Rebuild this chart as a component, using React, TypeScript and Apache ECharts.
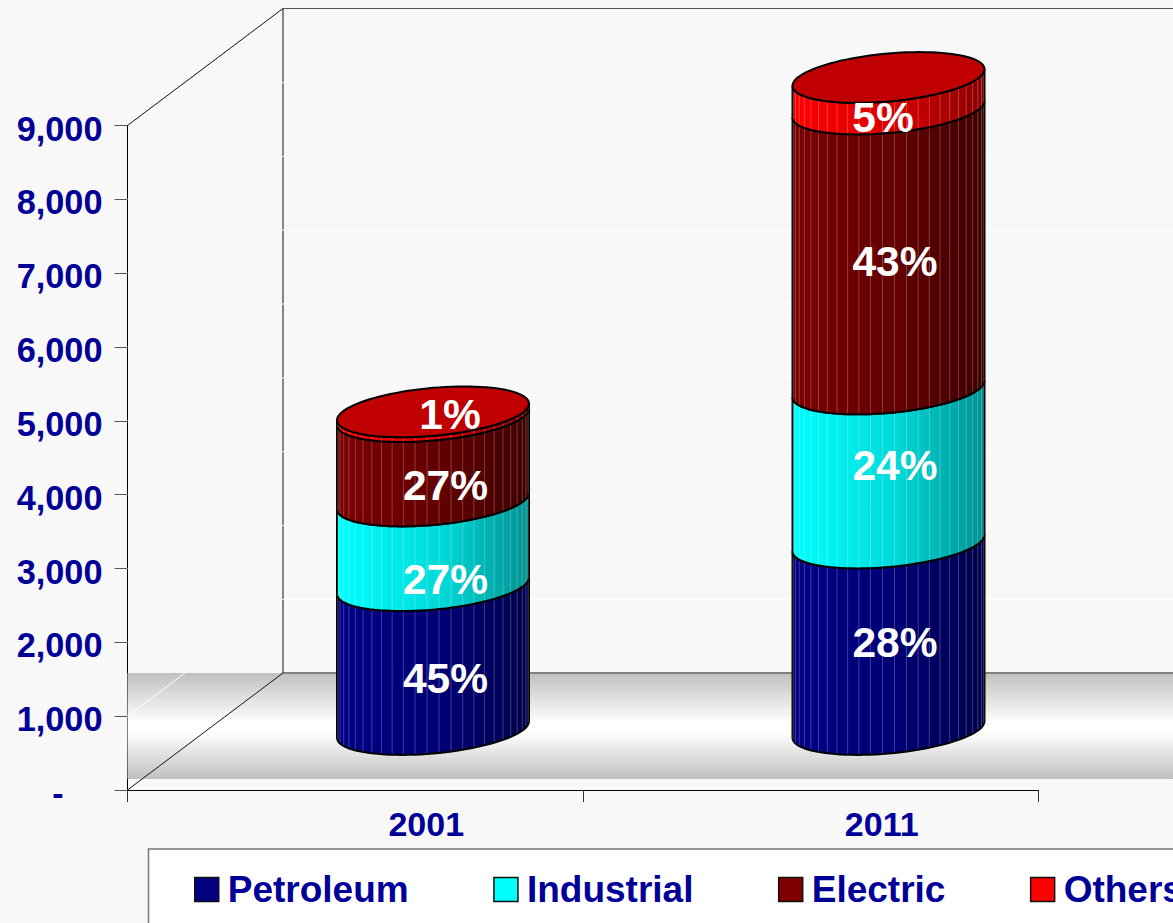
import React, { useEffect, useRef } from "react";
import * as echarts from "echarts";

const categories = ["2001", "2011"];
const yTicks = [0, 1000, 2000, 3000, 4000, 5000, 6000, 7000, 8000, 9000];
const petroleum = [1948, 2526];
const industrial = [1147, 2086];
const electric = [1143, 3792];
const others = [64, 427];
const seriesNames = ["Petroleum", "Industrial", "Electric", "Others"];
const pct2001 = ["45%", "27%", "27%", "1%"];
const pct2011 = ["28%", "24%", "43%", "5%"];
const labelLevel2001 = [684, 2026, 3300, 4262];
const labelLevel2011 = [1172, 3571, 6336, 8286];

const NAVY = "#000099";
const FONT = '"Liberation Sans", Arial, sans-serif';
const DEPTH_X = 155.5;
const DEPTH_Y = 117;
const LIFT = 2;
const RX = 96;
const RY = 24;
const TILT = -8.3;
const FACETS = 25;

const sideStops = [
  ["#000086", "#000074", "#00004c"],
  ["#00ffff", "#00d8d8", "#009090"],
  ["#7c0000", "#620000", "#3e0000"],
  ["#ff0000", "#d40000", "#8a0000"],
];
const markerColors = ["#000080", "#00ffff", "#800000", "#ff0000"];
const values = [petroleum, industrial, electric, others];
const labelDx = [
  [12.5, 12.5, 12.5, 17],
  [6.5, 6.5, 6.5, -5.5],
];

function rimPoint(cx: number, cy: number, t: number): number[] {
  return [cx + RX * Math.cos(t), cy + RY * Math.sin(t) + TILT * Math.cos(t)];
}

function centreAt(api: any, cat: number, val: number): number[] {
  const p = api.coord([cat, val]);
  return [p[0] + DEPTH_X / 2, p[1] - DEPTH_Y / 2 - LIFT];
}

function segmentRender(seriesIdx: number) {
  return (params: any, api: any) => {
    const cat = api.value(0);
    const base = api.value(1);
    const top = api.value(2);
    const [cx, yBase] = centreAt(api, cat, base);
    const [, yTop] = centreAt(api, cat, top);
    const lower: number[][] = [];
    const upper: number[][] = [];
    const steps = 48;
    for (let i = 0; i <= steps; i++) {
      const t = (i / steps) * Math.PI;
      lower.push(rimPoint(cx, yBase, t));
      upper.push(rimPoint(cx, yTop, t));
    }
    const stops = sideStops[seriesIdx];
    const children: any[] = [
      {
        type: "polygon",
        shape: { points: lower.concat(upper.slice().reverse()) },
        style: {
          fill: new echarts.graphic.LinearGradient(0, 0, 1, 0, [
            { offset: 0, color: stops[0] },
            { offset: 0.55, color: stops[1] },
            { offset: 1, color: stops[2] },
          ]),
          stroke: "#000",
          lineWidth: 2,
        },
      },
    ];
    for (let k = 1; k < FACETS; k++) {
      const t = (k / FACETS) * Math.PI;
      const a = rimPoint(cx, yBase, t);
      const b = rimPoint(cx, yTop, t);
      children.push({
        type: "line",
        shape: { x1: a[0], y1: a[1] - 1, x2: b[0], y2: b[1] + 1 },
        style: { stroke: "rgba(255,255,255,0.24)", lineWidth: 1 },
      });
    }
    if (seriesIdx === values.length - 1) {
      const ring: number[][] = [];
      for (let i = 0; i < 96; i++) {
        ring.push(rimPoint(cx, yTop, (i / 96) * Math.PI * 2));
      }
      children.push({
        type: "polygon",
        shape: { points: ring },
        style: { fill: "#c00000", stroke: "#000", lineWidth: 2 },
      });
    }
    return { type: "group", children };
  };
}

function buildSegments(idx: number) {
  return categories.map((_, c) => {
    let base = 0;
    for (let s = 0; s < idx; s++) base += values[s][c];
    return [c, base, base + values[idx][c]];
  });
}

function wallRender(params: any, api: any) {
  const w = api.getWidth();
  const o = api.coord([0, 0]);
  const axisLeft = o[0] - (api.size([1, 0])[0] / 2);
  const y0 = o[1];
  const y9 = api.coord([0, 9000])[1];
  const bx = axisLeft + DEPTH_X;
  const band = y0 - DEPTH_Y;
  return {
    type: "group",
    children: [
      {
        type: "rect",
        shape: { x: axisLeft, y: band, width: w - axisLeft, height: 106 },
        style: {
          fill: new echarts.graphic.LinearGradient(0, 0, 0, 1, [
            { offset: 0, color: "#c0c0c0" },
            { offset: 0.47, color: "#ffffff" },
            { offset: 0.56, color: "#ffffff" },
            { offset: 1, color: "#c0c0c0" },
          ]),
        },
      },
      {
        type: "line",
        shape: { x1: bx, y1: band, x2: w, y2: band },
        style: { stroke: "#808080", lineWidth: 2 },
      },
      {
        type: "polyline",
        shape: {
          points: [
            [axisLeft, y9],
            [bx, y9 - DEPTH_Y],
            [bx, band],
            [axisLeft, y0],
          ],
        },
        style: { stroke: "#111", lineWidth: 1, fill: "none" },
      },
      {
        type: "line",
        shape: { x1: bx, y1: y9 - DEPTH_Y, x2: w, y2: y9 - DEPTH_Y },
        style: { stroke: "#555", lineWidth: 1 },
      },
    ],
  };
}

function gridRender(params: any, api: any) {
  const w = api.getWidth();
  const o = api.coord([0, api.value(1)]);
  const left = o[0] - api.size([1, 0])[0] / 2;
  const y = o[1];
  const bx = left + DEPTH_X;
  const by = y - DEPTH_Y;
  return {
    type: "polyline",
    shape: { points: [[left, y], [bx, by], [w, by]] },
    style: { stroke: "#ffffff", lineWidth: 1, fill: "none" },
  };
}

function labelRender(params: any, api: any) {
  const cat = api.value(0);
  const [cx, y] = centreAt(api, cat, api.value(1));
  const i = api.value(2);
  return {
    type: "text",
    x: cx + labelDx[cat][i],
    y: y,
    style: {
      text: (cat === 0 ? pct2001 : pct2011)[i],
      fill: "#fff",
      font: `bold 42.5px ${FONT}`,
      textAlign: "center",
      textVerticalAlign: "middle",
    },
  };
}

const labelData = [
  ...labelLevel2001.map((v, i) => [0, v, i]),
  ...labelLevel2011.map((v, i) => [1, v, i]),
];

export default function App() {
  const ref = useRef<HTMLDivElement>(null);
  useEffect(() => {
    document.body.style.margin = "0";
    document.body.style.background = "#f8f8f8";
    const chart = echarts.init(ref.current!, undefined, { renderer: "svg" });
    const common = { coordinateSystem: "cartesian2d", clip: false, silent: true };
    chart.setOption({
      animation: false,
      backgroundColor: "#f8f8f8",
      grid: { left: 127.5, top: 125.5, width: 911, height: 664.5, containLabel: false },
      xAxis: {
        type: "category",
        data: categories,
        axisLine: { show: true, lineStyle: { color: "#000", width: 1 } },
        axisTick: { show: true, length: 12, alignWithLabel: false, lineStyle: { color: "#333", width: 1 } },
        axisLabel: {
          margin: 17,
          color: NAVY,
          fontFamily: FONT,
          fontWeight: "bold",
          fontSize: 34,
          padding: [0, 0, 0, 142],
        },
        splitLine: { show: false },
      },
      yAxis: {
        type: "value",
        min: 0,
        max: 9000,
        interval: 1000,
        axisLine: { show: true, lineStyle: { color: "#000", width: 1 } },
        axisTick: { show: true, length: 13, lineStyle: { color: "#555", width: 1 } },
        splitLine: { show: false },
        axisLabel: {
          margin: 25,
          color: NAVY,
          fontFamily: FONT,
          fontWeight: "bold",
          fontSize: 34.3,
          padding: [6, 0, 0, 0],
          formatter: (v: number) => (v === 0 ? "{dash|-}" : v.toLocaleString("en-US")),
          rich: {
            dash: {
              color: NAVY,
              fontFamily: FONT,
              fontWeight: "bold",
              fontSize: 34,
              padding: [0, 39, 0, 0],
            },
          },
        },
      },
      legend: {
        show: true,
        left: 194,
        top: 871,
        width: 1400,
        orient: "horizontal",
        padding: 0,
        itemGap: 84.5,
        itemWidth: 24,
        itemHeight: 24,
        icon: "rect",
        selectedMode: false,
        data: seriesNames,
        itemStyle: { borderColor: "#111", borderWidth: 1.5 },
        textStyle: {
          color: NAVY,
          fontFamily: FONT,
          fontWeight: "bold",
          fontSize: 37,
          padding: [8, 0, 0, 4],
        },
      },
      graphic: [
        {
          type: "rect",
          z: 1,
          shape: { x: 148.5, y: 849, width: 1200, height: 200 },
          style: { fill: "#fff", stroke: "#777", lineWidth: 1.5 },
        },
      ],
      series: [
        {
          ...common,
          type: "custom",
          name: "walls",
          z: 1,
          data: [[0, 0]],
          encode: { x: 0, y: 1 },
          renderItem: wallRender,
        },
        {
          ...common,
          type: "custom",
          name: "gridlines",
          z: 2,
          data: yTicks.filter((v) => v > 0 && v < 9000).map((v) => [0, v]),
          encode: { x: 0, y: 1 },
          renderItem: gridRender,
        },
        ...seriesNames.map((name, i) => ({
          ...common,
          type: "custom",
          name,
          z: 3 + i,
          itemStyle: { color: markerColors[i] },
          data: buildSegments(i),
          encode: { x: 0, y: [1, 2] },
          renderItem: segmentRender(i),
        })),
        {
          ...common,
          type: "custom",
          name: "labels",
          z: 10,
          data: labelData,
          encode: { x: 0, y: 1 },
          renderItem: labelRender,
        },
      ],
    });
    return () => chart.dispose();
  }, []);
  return <div ref={ref} style={{ position: "absolute", left: 0, top: 0, width: 1173, height: 923, overflow: "hidden" }} />;
}
